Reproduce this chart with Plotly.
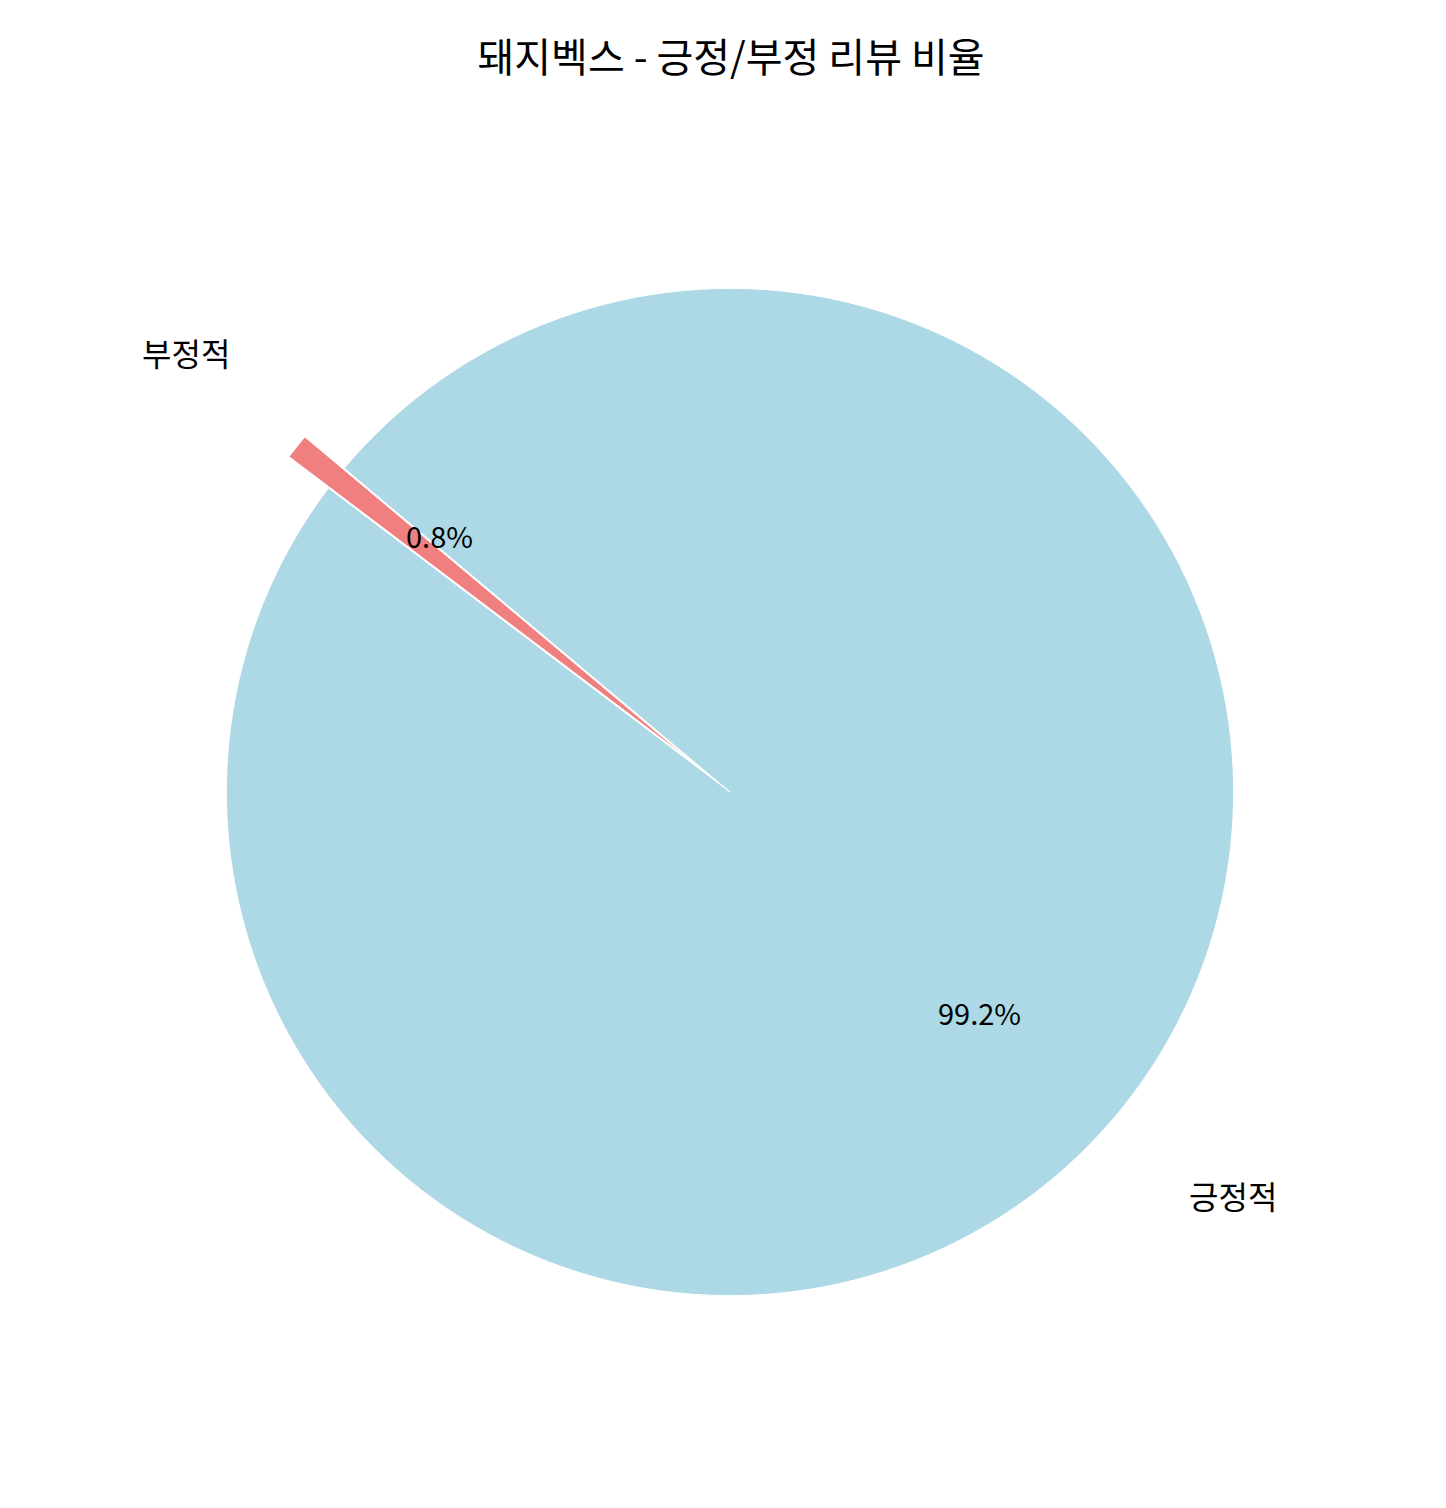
import math
import plotly.graph_objects as go

labels = ["긍정적", "부정적"]
values = [99.2, 0.8]
colors = ["#ADD8E6", "#F08080"]
explode = [0, 0.1]
start_angle = 140

font = "Noto Sans CJK KR"
W, H = 1446, 1508
cx, cy, R = 722, 784, 554  # pixel centre/radius of the pie

fig = go.Figure()
fig.add_trace(go.Pie(
    labels=labels, values=values, sort=False, direction="counterclockwise",
    rotation=-(start_angle - 90), pull=explode,
    marker=dict(colors=colors, line=dict(color="white", width=1)),
    textinfo="none", showlegend=False, hoverinfo="skip",
    domain=dict(x=[(cx - R) / W, (cx + R) / W], y=[(H - cy - R) / H, (H - cy + R) / H])))

total = sum(values)
ang = start_angle
anns = []
for lab, v, ex in zip(labels, values, explode):
    mid = math.radians(ang + 180 * v / total)
    ang += 360 * v / total
    c, s = math.cos(mid), math.sin(mid)
    for dist, txt, size, anchor in [(1.1 + ex, lab, 32, "left" if c > 0 else "right"),
                                    (0.6 + ex, f"{v / total * 100:.1f}%", 29, "center")]:
        anns.append(dict(x=(cx + dist * R * c) / W, y=(H - cy + dist * R * s) / H,
                         xref="paper", yref="paper", text=txt, showarrow=False,
                         xanchor=anchor, yanchor="middle",
                         font=dict(size=size, color="black", family=font)))

fig.update_layout(
    width=W, height=H, paper_bgcolor="white", plot_bgcolor="white",
    margin=dict(l=0, r=0, t=0, b=0), annotations=anns,
    title=dict(text="돼지벡스 - 긍정/부정 리뷰 비율", x=0.5, y=0.967, xanchor="center", yanchor="middle",
               font=dict(size=40, color="black", family=font)),
)
fig.write_html("out.html")
